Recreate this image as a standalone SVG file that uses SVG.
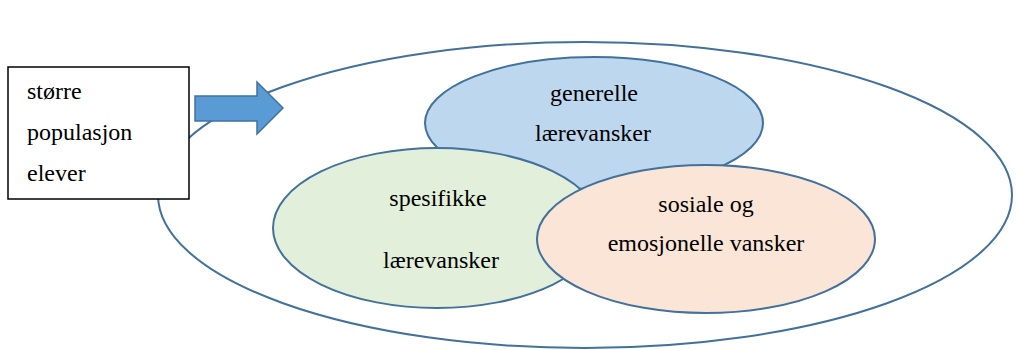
<svg xmlns="http://www.w3.org/2000/svg" width="1016" height="350" viewBox="0 0 1016 350">
<style>
.e{stroke:#41719c;stroke-width:2}
.c{text-anchor:middle}
</style>
<rect width="1016" height="350" fill="#fff"/>
<g id="outer"><ellipse class="e" cx="585" cy="195" rx="427" ry="153" fill="none"/></g>
<g font-family="Liberation Serif, Times New Roman, serif" font-size="24" fill="#000">
<g id="generelle"><ellipse class="e" cx="594" cy="123" rx="169" ry="66" fill="#bdd7ee"/>
<text class="c" x="594" y="101">generelle</text><text class="c" x="593" y="141">lærevansker</text></g>
<g id="spesifikke"><ellipse class="e" cx="437" cy="228" rx="164" ry="80" fill="#e2efda"/>
<text class="c" x="438" y="206">spesifikke</text><text class="c" x="441" y="268">lærevansker</text></g>
<g id="sosiale"><ellipse class="e" cx="706" cy="239" rx="169" ry="74" fill="#fbe5d6"/>
<text class="c" x="706" y="212">sosiale og</text><text class="c" x="706" y="251">emosjonelle vansker</text></g>
<g id="box"><rect x="8" y="67" width="181" height="132" fill="#fff" stroke="#000" stroke-width="1.5"/>
<text x="27" y="99">større</text><text x="27" y="140">populasjon</text><text x="27" y="181">elever</text></g>
</g>
<g id="connectors"><path d="M195 96 H257 V82 L283 108 L257 134 V121 H195 Z" fill="#5b9bd5" stroke="#41719c" stroke-width="1.5"/></g>
</svg>
